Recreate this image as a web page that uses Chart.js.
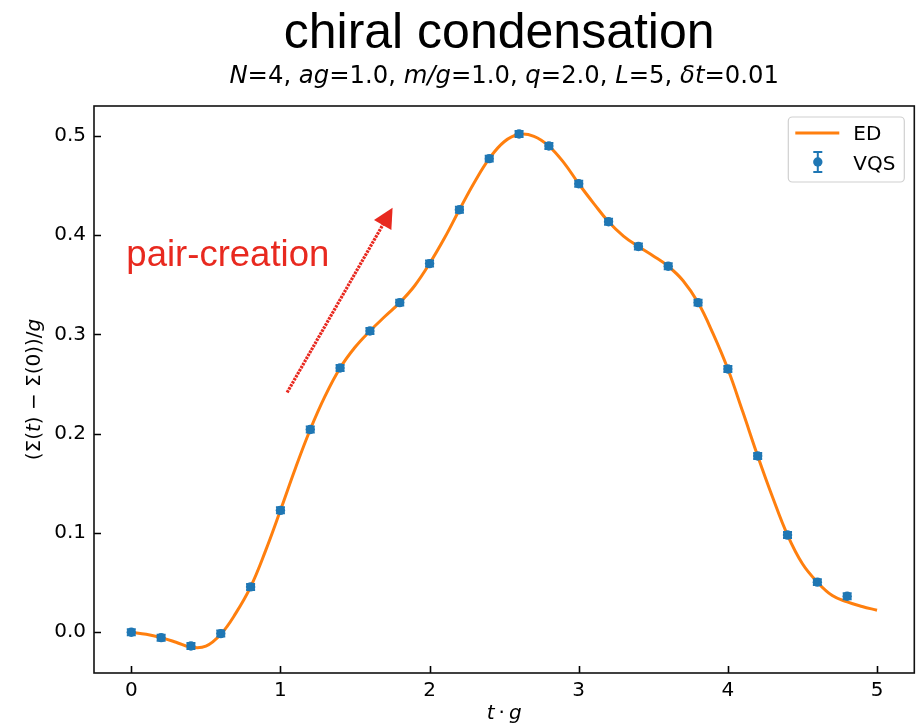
<!DOCTYPE html>
<html>
<head>
<meta charset="utf-8">
<script src="https://cdn.jsdelivr.net/npm/chart.js@4"></script>
<style>
  html, body { margin: 0; padding: 0; background: #fff; }
  canvas { display: block; }
</style>
</head>
<body>
<canvas id="c" width="919" height="726"></canvas>
<script>
// ---------------- data ----------------
const titleText = "chiral condensation";
const subtitleParts = [
  ["N", true], ["=4, ", false], ["ag", true], ["=1.0, ", false],
  ["m/g", true], ["=1.0, ", false], ["q", true], ["=2.0, ", false],
  ["L", true], ["=5, ", false], ["\u03b4t", true], ["=0.01", false]
];
const xLabelParts = [["t", true], ["\u2009\u00b7\u2009", false], ["g", true]];
const yLabelParts = [["(\u03a3(", false], ["t", true], [") \u2212 \u03a3(0))/", false], ["g", true]];
const annotationText = "pair-creation";
const legendLabels = ["ED", "VQS"];

const xTicks = [0, 1, 2, 3, 4, 5];
const yTicks = [0.0, 0.1, 0.2, 0.3, 0.4, 0.5];

// ED (exact diagonalisation) curve
const edT = [0.0,0.1,0.2,0.3,0.4,0.5,0.6,0.7,0.8,0.9,
             1.0,1.1,1.2,1.3,1.4,1.5,1.6,1.7,1.8,1.9,
             2.0,2.1,2.2,2.3,2.4,2.5,2.6,2.7,2.8,2.9,
             3.0,3.1,3.2,3.3,3.4,3.5,3.6,3.7,3.8,3.9,
             4.0,4.1,4.2,4.3,4.4,4.5,4.6,4.7,4.8,4.9,5.0];
const edY = [0.000,-0.002,-0.0054,-0.010,-0.0150,-0.0140,-0.002,0.019,0.0457,0.082,
             0.1228,0.165,0.2042,0.238,0.2661,0.287,0.3034,0.318,0.332,0.349,
             0.3713,0.397,0.4255,0.453,0.477,0.494,0.5015,0.4995,0.4897,0.473,
             0.4517,0.432,0.4134,0.399,0.3885,0.379,0.3686,0.354,0.332,0.301,
             0.2651,0.222,0.1776,0.136,0.0979,0.069,0.0505,0.037,0.0306,0.026,0.0222];

// VQS points with error bars
const vqsT = [0.0,0.2,0.4,0.6,0.8,1.0,1.2,1.4,1.6,1.8,2.0,2.2,2.4,2.6,2.8,3.0,3.2,3.4,3.6,3.8,4.0,4.2,4.4,4.6,4.8];
const vqsY = [0.000,-0.0054,-0.0138,-0.0013,0.0457,0.1228,0.2042,0.2661,0.3034,0.332,
              0.3713,0.4255,0.477,0.5018,0.4897,0.4517,0.4134,0.3885,0.3686,0.332,
              0.2651,0.1776,0.0979,0.0505,0.0363];
const vqsErr = [0.003,0.003,0.003,0.003,0.003,0.003,0.003,0.003,0.003,0.003,
                0.003,0.003,0.003,0.003,0.003,0.003,0.003,0.003,0.003,0.003,
                0.003,0.003,0.003,0.003,0.003];

// annotation arrow (data coordinates)
const arrowFrom = [1.045, 0.2415];
const arrowTo = [1.752, 0.4276];
const annotationPos = [-0.033, 0.3686];

// ---------------- styles ----------------
const C_ED = "#ff7f0e";
const C_VQS = "#1f77b4";
const C_RED = "#e8291f";
const FONT = '"DejaVu Sans", "Noto Sans", sans-serif';

function drawRich(ctx, parts, size, cx, baseline) {
  const fonts = parts.map(p => (p[1] ? "italic " : "") + size + "px " + FONT);
  let widths = parts.map((p, i) => { ctx.font = fonts[i]; return ctx.measureText(p[0]).width; });
  const total = widths.reduce((a, b) => a + b, 0);
  let x = cx - total / 2;
  ctx.textAlign = "left";
  ctx.textBaseline = "alphabetic";
  parts.forEach((p, i) => { ctx.font = fonts[i]; ctx.fillText(p[0], x, baseline); x += widths[i]; });
}

const decorPlugin = {
  id: "decor",
  afterDatasetsDraw(chart) {
    const ctx = chart.ctx;
    const xs = chart.scales.x, ys = chart.scales.y;
    const a = chart.chartArea;
    ctx.save();
    // error bars
    ctx.strokeStyle = C_VQS;
    ctx.lineWidth = 2;
    vqsT.forEach((t, i) => {
      const px = xs.getPixelForValue(t);
      const p1 = ys.getPixelForValue(vqsY[i] - vqsErr[i]);
      const p2 = ys.getPixelForValue(vqsY[i] + vqsErr[i]);
      ctx.beginPath();
      ctx.moveTo(px, p1); ctx.lineTo(px, p2);
      ctx.moveTo(px - 4.5, p1); ctx.lineTo(px + 4.5, p1);
      ctx.moveTo(px - 4.5, p2); ctx.lineTo(px + 4.5, p2);
      ctx.stroke();
    });

    // annotation arrow
    const x0 = xs.getPixelForValue(arrowFrom[0]), y0 = ys.getPixelForValue(arrowFrom[1]);
    const x1 = xs.getPixelForValue(arrowTo[0]), y1 = ys.getPixelForValue(arrowTo[1]);
    const ang = Math.atan2(y1 - y0, x1 - x0);
    const hl = 20, hw = 10;
    const bx = x1 - hl * Math.cos(ang), by = y1 - hl * Math.sin(ang);
    ctx.strokeStyle = C_RED;
    ctx.fillStyle = C_RED;
    ctx.lineWidth = 3.2;
    ctx.setLineDash([2.5, 1]);
    ctx.beginPath();
    ctx.moveTo(x0, y0); ctx.lineTo(bx + 2 * Math.cos(ang), by + 2 * Math.sin(ang));
    ctx.stroke();
    ctx.setLineDash([]);
    ctx.beginPath();
    ctx.moveTo(x1, y1);
    ctx.lineTo(bx + hw * Math.sin(ang), by - hw * Math.cos(ang));
    ctx.lineTo(bx - hw * Math.sin(ang), by + hw * Math.cos(ang));
    ctx.closePath();
    ctx.fill();

    ctx.font = '36.5px "Liberation Sans", Arial, sans-serif';
    ctx.textAlign = "left";
    ctx.textBaseline = "alphabetic";
    ctx.fillText(annotationText, xs.getPixelForValue(annotationPos[0]), ys.getPixelForValue(annotationPos[1]));

    // inward ticks
    ctx.strokeStyle = "#000";
    ctx.lineWidth = 1.6;
    ctx.beginPath();
    xTicks.forEach(v => { const px = Math.round(xs.getPixelForValue(v)) + 0.5; ctx.moveTo(px, a.bottom); ctx.lineTo(px, a.bottom - 7); });
    yTicks.forEach(v => { const py = Math.round(ys.getPixelForValue(v)) + 0.5; ctx.moveTo(a.left, py); ctx.lineTo(a.left + 7, py); });
    ctx.stroke();
    // spines
    ctx.lineWidth = 1.6;
    ctx.strokeStyle = "#111";
    ctx.strokeRect(a.left, a.top, a.right - a.left, a.bottom - a.top);

    // legend
    const lx = a.right - 126, ly = a.top + 11, lw = 116, lh = 65;
    ctx.fillStyle = "rgba(255,255,255,0.8)";
    ctx.strokeStyle = "#d0d0d0";
    ctx.lineWidth = 1.2;
    ctx.beginPath();
    if (ctx.roundRect) ctx.roundRect(lx, ly, lw, lh, 4); else ctx.rect(lx, ly, lw, lh);
    ctx.fill(); ctx.stroke();
    ctx.strokeStyle = C_ED;
    ctx.lineWidth = 3;
    ctx.beginPath();
    ctx.moveTo(lx + 7, ly + 16); ctx.lineTo(lx + 51, ly + 16);
    ctx.stroke();
    const ex = lx + 29.5, ey = ly + 45;
    ctx.strokeStyle = C_VQS; ctx.fillStyle = C_VQS;
    ctx.lineWidth = 2;
    ctx.beginPath();
    ctx.moveTo(ex, ey - 10); ctx.lineTo(ex, ey + 10);
    ctx.moveTo(ex - 4.5, ey - 10); ctx.lineTo(ex + 4.5, ey - 10);
    ctx.moveTo(ex - 4.5, ey + 10); ctx.lineTo(ex + 4.5, ey + 10);
    ctx.stroke();
    ctx.beginPath(); ctx.arc(ex, ey, 4.7, 0, Math.PI * 2); ctx.fill();
    ctx.fillStyle = "#000";
    ctx.font = "20px " + FONT;
    ctx.fillText(legendLabels[0], lx + 65, ly + 23);
    ctx.fillText(legendLabels[1], lx + 65, ly + 53);

    // titles
    ctx.fillStyle = "#000";
    ctx.font = '50px "Liberation Sans", Arial, sans-serif';
    ctx.textAlign = "center";
    ctx.fillText(titleText, (a.left + a.right) / 2 - 5, 47.5);
    drawRich(ctx, subtitleParts, 24.3, (a.left + a.right) / 2, 83);

    // axis labels
    drawRich(ctx, xLabelParts, 20, (a.left + a.right) / 2, 719);
    ctx.save();
    ctx.translate(40, (a.top + a.bottom) / 2);
    ctx.rotate(-Math.PI / 2);
    drawRich(ctx, yLabelParts, 20, 0, 0);
    ctx.restore();

    ctx.restore();
  }
};

new Chart(document.getElementById("c"), {
  data: {
    datasets: [
      {
        type: "scatter",
        label: legendLabels[1],
        data: vqsT.map((t, i) => ({ x: t, y: vqsY[i] })),
        backgroundColor: C_VQS,
        borderWidth: 0,
        pointRadius: 4.7,
        order: 0
      },
      {
        type: "line",
        label: legendLabels[0],
        data: edT.map((t, i) => ({ x: t, y: edY[i] })),
        borderColor: C_ED,
        borderWidth: 3,
        pointRadius: 0,
        tension: 0.4,
        fill: false,
        order: 1
      }
    ]
  },
  options: {
    responsive: false,
    animation: false,
    events: [],
    layout: { padding: { top: 106, right: 4, left: 0, bottom: 0 } },
    plugins: { legend: { display: false }, tooltip: { enabled: false }, title: { display: false } },
    scales: {
      x: {
        type: "linear",
        min: -0.25, max: 5.25,
        afterFit: s => { s.height = 53; },
        afterBuildTicks: s => { s.ticks = xTicks.map(v => ({ value: v })); },
        grid: { display: false, drawTicks: false },
        border: { display: false },
        ticks: { font: { family: FONT, size: 20 }, color: "#000", padding: 6, maxRotation: 0,
                 callback: v => v.toFixed(0) }
      },
      y: {
        type: "linear",
        min: -0.041, max: 0.530,
        afterFit: s => { s.width = 94; },
        afterBuildTicks: s => { s.ticks = yTicks.map(v => ({ value: v })); },
        grid: { display: false, drawTicks: false },
        border: { display: false },
        ticks: { font: { family: FONT, size: 20 }, color: "#000", padding: 8,
                 callback: v => v.toFixed(1) }
      }
    }
  },
  plugins: [decorPlugin]
});
</script>
</body>
</html>
